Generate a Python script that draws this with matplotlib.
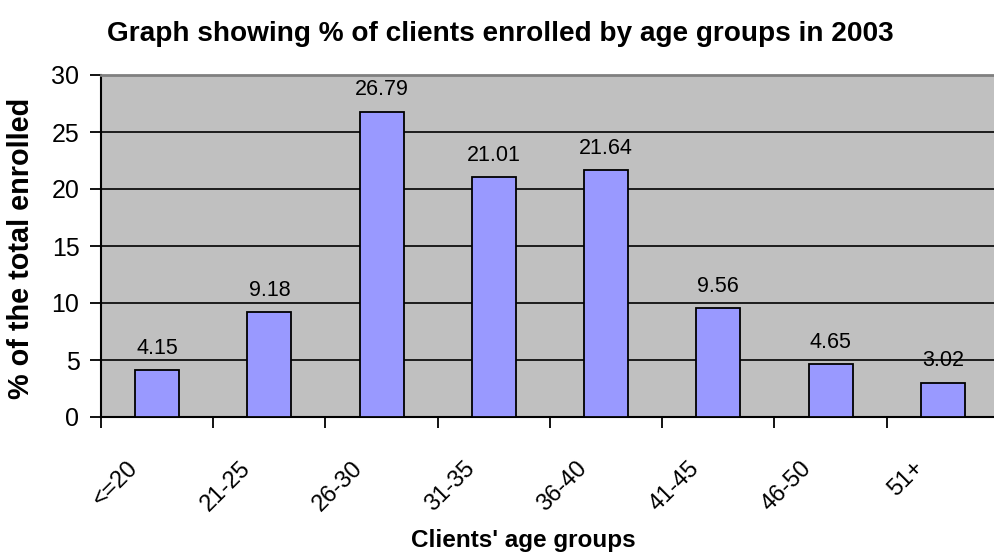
import matplotlib.pyplot as plt
from matplotlib.ticker import MultipleLocator, FixedLocator, NullFormatter

plt.rcParams["font.family"] = ["Liberation Sans", "DejaVu Sans"]

age_groups = ["<=20", "21-25", "26-30", "31-35", "36-40", "41-45", "46-50", "51+"]
percent_enrolled = [4.15, 9.18, 26.79, 21.01, 21.64, 9.56, 4.65, 3.02]
value_labels = ["4.15", "9.18", "26.79", "21.01", "21.64", "9.56", "4.65", "3.02"]


def main():
    fig = plt.figure(figsize=(9.95, 5.58), dpi=100)
    ax = fig.add_axes([101 / 995, 141 / 558, 898 / 995, 342 / 558])
    ax.set_facecolor("#C0C0C0")

    xs = list(range(len(age_groups)))
    ax.bar(xs, percent_enrolled, width=0.39, color="#9999FF",
           edgecolor="black", linewidth=1.3, zorder=3)

    for x, v, lab in zip(xs, percent_enrolled, value_labels):
        ax.annotate(lab, (x, v), xytext=(0, 8), textcoords="offset points",
                    ha="center", va="bottom", fontsize=15.5)

    ax.set_xlim(-0.5, len(age_groups) - 0.5)
    ax.set_ylim(0, 30)
    ax.yaxis.set_major_locator(MultipleLocator(5))
    ax.xaxis.set_major_locator(FixedLocator([i - 0.5 for i in range(len(age_groups) + 1)]))
    ax.xaxis.set_major_formatter(NullFormatter())
    ax.tick_params(axis="y", direction="out", length=8, width=1.3,
                   labelsize=18, pad=7.5)
    ax.tick_params(axis="x", direction="out", length=8, width=1.3)

    trans = ax.get_xaxis_transform()
    for x, lab in zip(xs, age_groups):
        ax.text(x - 0.2, -0.14, lab, transform=trans, rotation=45,
                rotation_mode="anchor", ha="right", va="center", fontsize=17)

    ax.grid(axis="y", color="black", linewidth=1.2)
    ax.set_axisbelow(True)
    ax.spines["left"].set_linewidth(1.5)
    ax.spines["bottom"].set_linewidth(1.5)
    ax.spines["top"].set_color("#808080")
    ax.spines["top"].set_linewidth(2)
    ax.spines["right"].set_visible(False)

    fig.text(500 / 995, 1 - 41 / 558,
             "Graph showing % of clients enrolled by age groups in 2003",
             ha="center", va="baseline", fontsize=20.2, fontweight="bold")
    fig.text(21 / 995, 1 - 248 / 558, "% of the total enrolled", rotation=90,
             ha="center", va="center", fontsize=20.8, fontweight="bold")
    fig.text(523 / 995, 1 - 541 / 558, "Clients' age groups",
             ha="center", va="center", fontsize=17.5, fontweight="bold")

    fig.savefig("out.png", dpi=100)


if __name__ == "__main__":
    main()
